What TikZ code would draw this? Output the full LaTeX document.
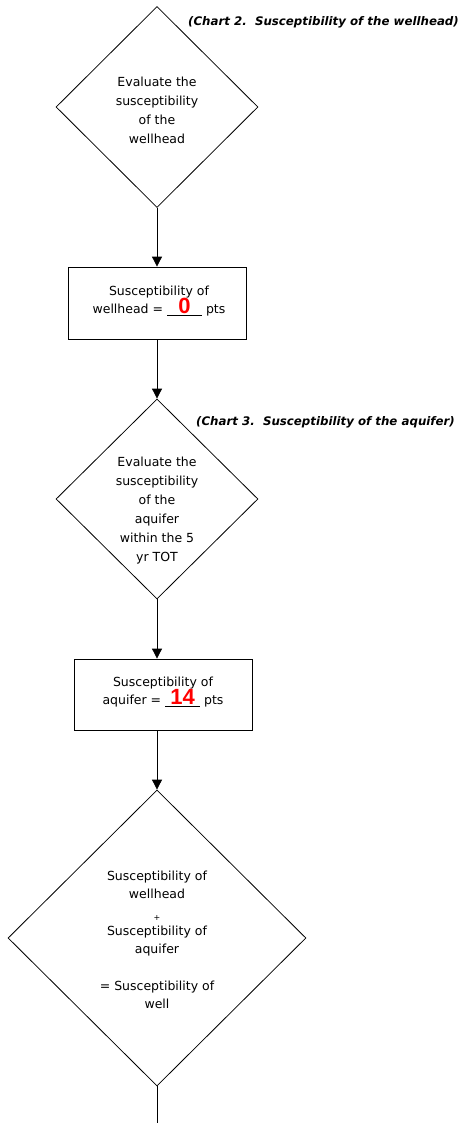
\documentclass[tikz,border=0pt]{standalone}
\usepackage{fontspec}
\setmainfont{DejaVu Sans}
\newfontfamily\numfont{Liberation Sans}
\usetikzlibrary{shapes.geometric,arrows.meta}
% red score written over the blank
\newcommand{\score}[1]{\rlap{\rule[-2pt]{35pt}{0.6pt}}\makebox[35pt]{\numfont\fontsize{22}{22}\selectfont\bfseries\color{red}#1}}
\begin{document}
\begin{tikzpicture}[x=1pt,y=-1pt,
  decision/.style={draw, diamond, inner sep=0pt, line width=0.8pt},
  result/.style={draw, rectangle, line width=0.8pt, minimum width=178pt},
  txt/.style={align=center, font=\fontsize{12.5}{19}\selectfont},
  chartref/.style={font=\fontsize{11.8}{14}\selectfont\bfseries\itshape},
  arr/.style={-{Triangle[width=10pt,length=10pt]}, line width=0.8pt}]
\useasboundingbox (0,0) rectangle (460,1123);
% wellhead
\node[decision, minimum width=202pt, minimum height=201pt] (d1) at (157,107) {};
\node[txt] (d1t) at (157,110) {Evaluate the\\susceptibility\\of the\\wellhead};
\node[chartref, anchor=east, inner sep=1pt] (c2) at (460,22) {(Chart 2.\ \ Susceptibility of the wellhead)};
\node[result, minimum height=72pt] (b1) at (157,303) {};
\node[txt, font=\fontsize{12.5}{18}\selectfont] (b1t) at (159,301) {Susceptibility of\\wellhead = \score{0} pts};
% aquifer
\node[decision, minimum width=202pt, minimum height=200pt] (d2) at (157,499) {};
\node[txt] (d2t) at (157,511) {Evaluate the\\susceptibility\\of the\\aquifer\\within the 5\\yr TOT};
\node[chartref, anchor=east, inner sep=1pt] (c3) at (456,422) {(Chart 3.\ \ Susceptibility of the aquifer)};
\node[result, minimum height=71pt] (b2) at (163,694.5) {};
\node[txt, font=\fontsize{12.5}{18}\selectfont] (b2t) at (163,692) {Susceptibility of\\aquifer = \score{14} pts};
% well
\node[decision, minimum width=298pt, minimum height=296pt] (d3) at (157,938) {};
\node[txt, font=\fontsize{12.5}{18}\selectfont] (d3t) at (157,940) {Susceptibility of\\wellhead\\[4pt]{\fontsize{8}{8}\selectfont +}\\[-3pt]Susceptibility of\\aquifer\\[19pt]= Susceptibility of\\well};
\coordinate (out) at (157,1123);
% connectors
\draw[arr] (d1.south) -- (b1.north);
\draw[arr] (b1.south) -- (d2.north);
\draw[arr] (d2.south) -- (d2.south |- b2.north);
\draw[arr] (b2.south -| d3.north) -- (d3.north);
\draw[line width=0.8pt] (d3.south) -- (out);
\end{tikzpicture}
\end{document}
